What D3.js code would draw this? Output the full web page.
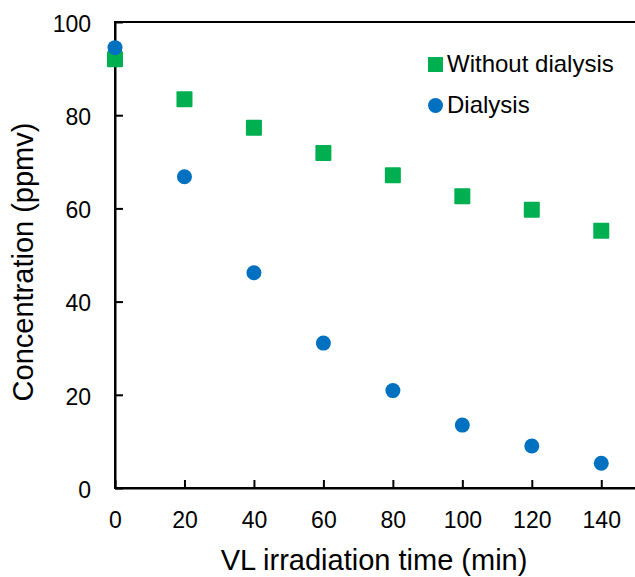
<!DOCTYPE html>
<html>
<head>
<meta charset="utf-8">
<script src="https://cdn.jsdelivr.net/npm/d3@7"></script>
<style>
  body { margin: 0; background: #fff; }
  svg text { font-family: "Liberation Sans", Arial, sans-serif; fill: #000; }
</style>
</head>
<body>
<div class="canva"></div>
<script>
const times = [0, 20, 40, 60, 80, 100, 120, 140]
const withoutDialysis = [92.0, 83.4, 77.3, 71.9, 67.1, 62.6, 59.7, 55.2]
const dialysis = [94.5, 66.8, 46.2, 31.1, 20.9, 13.5, 9.0, 5.3]
const xTicks = [0, 20, 40, 60, 80, 100, 120, 140]
const yTicks = [0, 20, 40, 60, 80, 100]

const width = 635, height = 577
const plotLeft = 115, plotRight = 636, plotTop = 22, plotBottom = 488

const svg = d3.select(".canva").append("svg")
    .attr("width", width)
    .attr("height", height)

const x = d3.scaleLinear().domain([0, 150]).range([plotLeft, plotRight])
const y = d3.scaleLinear().domain([0, 100]).range([plotBottom, plotTop])

// plot area border (right edge falls just outside the picture)
svg.append("rect")
    .attr("x", plotLeft).attr("y", plotTop)
    .attr("width", plotRight - plotLeft + 2).attr("height", plotBottom - plotTop)
    .attr("fill", "none").attr("stroke", "#000").attr("stroke-width", 2)

const xAxis = svg.append("g")
    .attr("transform", `translate(0,${plotBottom})`)
    .call(d3.axisBottom(x).tickValues(xTicks).tickSizeInner(-8).tickSizeOuter(0).tickPadding(0))
xAxis.select(".domain").attr("stroke-width", 2)
xAxis.selectAll(".tick line").attr("stroke-width", 2)
xAxis.selectAll(".tick text")
    .attr("y", 40).attr("dy", null)
    .attr("font-size", 23)

const yAxis = svg.append("g")
    .attr("transform", `translate(${plotLeft},0)`)
    .call(d3.axisLeft(y).tickValues(yTicks).tickSizeInner(-8).tickSizeOuter(0).tickPadding(0))
yAxis.select(".domain").attr("stroke-width", 2)
yAxis.selectAll(".tick line").attr("stroke-width", 2)
yAxis.selectAll(".tick text")
    .attr("x", -24).attr("dy", "0.4em")
    .attr("font-size", 23)

svg.append("text")
    .attr("x", 374).attr("y", 570)
    .attr("text-anchor", "middle")
    .attr("font-size", 29)
    .text("VL irradiation time (min)")

svg.append("text")
    .attr("transform", "translate(33,262) rotate(-90)")
    .attr("text-anchor", "middle")
    .attr("font-size", 29)
    .text("Concentration (ppmv)")

const green = "#00B050", blue = "#0070C0"

svg.append("g").selectAll("rect")
    .data(times.map((t, i) => ({ t: t, v: withoutDialysis[i] })))
    .enter().append("rect")
    .attr("x", d => x(d.t) - 8)
    .attr("y", d => y(d.v) - 8)
    .attr("width", 16).attr("height", 16)
    .attr("rx", 1)
    .attr("fill", green)

svg.append("g").selectAll("circle")
    .data(times.map((t, i) => ({ t: t, v: dialysis[i] })))
    .enter().append("circle")
    .attr("cx", d => x(d.t))
    .attr("cy", d => y(d.v))
    .attr("r", 7.5)
    .attr("fill", blue)

// legend
const legend = svg.append("g")
legend.append("rect")
    .attr("x", 428).attr("y", 57).attr("width", 15).attr("height", 15)
    .attr("fill", green)
legend.append("text")
    .attr("x", 447).attr("y", 72)
    .attr("font-size", 24)
    .text("Without dialysis")
legend.append("circle")
    .attr("cx", 435.5).attr("cy", 105.5).attr("r", 7.5)
    .attr("fill", blue)
legend.append("text")
    .attr("x", 447).attr("y", 113)
    .attr("font-size", 24)
    .text("Dialysis")
</script>
</body>
</html>
